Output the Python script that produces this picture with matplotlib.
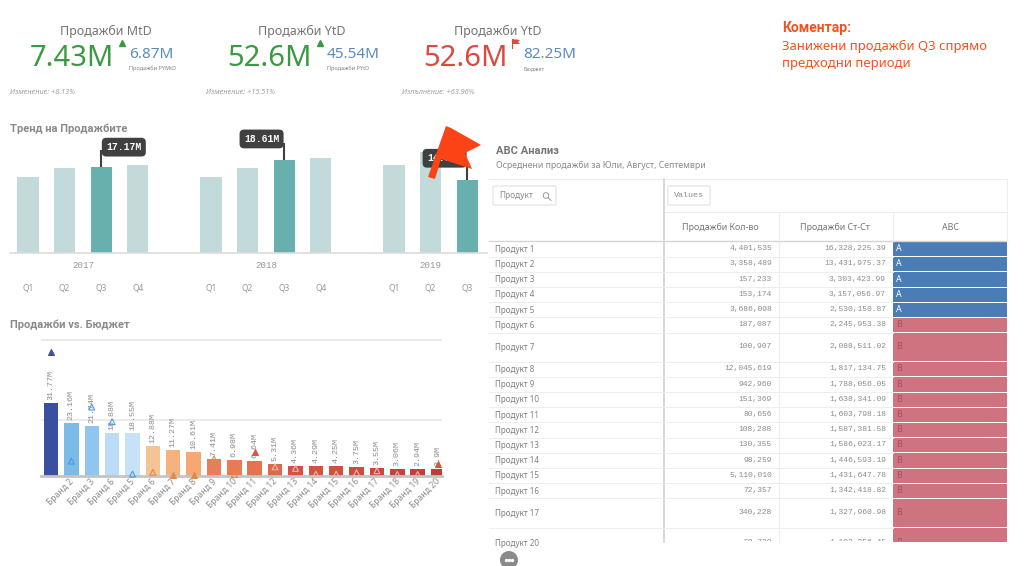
import matplotlib
matplotlib.use("Agg")
import matplotlib.pyplot as plt
from matplotlib.patches import Polygon, Rectangle, FancyBboxPatch, Circle
from matplotlib.transforms import blended_transform_factory, ScaledTranslation

W, H = 1024, 566
SANS = "Noto Sans"
BOLD = "Roboto"
MONO = "Liberation Mono"
plt.rcParams["font.family"] = [SANS, "DejaVu Sans"]

# ---------- data ----------
kpi_titles = ["Продажби MtD", "Продажби YtD", "Продажби YtD"]
kpi_values = ["7.43M", "52.6M", "52.6M"]
kpi_refs = ["6.87M", "45.54M", "82.25M"]
kpi_ref_names = ["Продажби PYMtD", "Продажби PYtD", "Бюджет"]
kpi_notes = ["Изменение: +8.13%", "Изменение: +15.51%", "Изпълнение: +63.96%"]

comment_lines = ["Занижени продажби Q3 спрямо", "предходни периоди"]

trend_years = ["2017", "2018", "2019"]
trend_quarters = [["Q1", "Q2", "Q3", "Q4"], ["Q1", "Q2", "Q3", "Q4"], ["Q1", "Q2", "Q3"]]
trend_values = [[15.2, 17.0, 17.17, 17.7], [15.3, 17.1, 18.61, 19.0], [17.7, 20.2, 14.55]]

brand_tick_labels = ["Бранд 2", "Бранд 3", "Бранд 6", "Бранд 5", "Бранд 6", "Бранд 7", "Бранд 8",
                     "Бранд 9", "Бранд 10", "Бранд 11", "Бранд 12", "Бранд 13", "Бранд 14",
                     "Бранд 15", "Бранд 16", "Бранд 17", "Бранд 18", "Бранд 19", "Бранд 20"]
brand_sales = [31.77, 23.16, 21.74, 18.88, 18.55, 12.88, 11.27, 10.61, 7.41, 6.98,
               6.64, 5.31, 4.36, 4.29, 4.25, 3.75, 3.55, 3.06, 2.94, 2.9]
brand_budget = [54.4, 6.4, 30.1, 23.7, 0.7, 1.5, 0.5, 0.5, 7.3, 0.5,
                10.5, 3.9, 3.2, 0.7, 0.7, 1.3, 2.2, 0.6, 0.6, 5.0]
brand_budget_filled = [1, 0, 0, 0, 0, 0, 1, 1, 0, 0, 1, 0, 0, 0, 0, 0, 0, 0, 0, 1]
brand_colors = ["#3a4f9f", "#7bbbe8", "#8fc5ee", "#bcdcf5", "#c5e2f8", "#f3c595", "#f6b27a",
                "#f5a871", "#e97d57", "#e97a52", "#e5744e", "#e0674a", "#d2543f", "#d2533f",
                "#d0503e", "#cd4b3d", "#cb463c", "#c8413b", "#c63e3b", "#c33a3a"]

products = ["Продукт 1", "Продукт 2", "Продукт 3", "Продукт 4", "Продукт 5", "Продукт 6", "Продукт 7",
            "Продукт 8", "Продукт 9", "Продукт 10", "Продукт 11", "Продукт 12", "Продукт 13",
            "Продукт 14", "Продукт 15", "Продукт 16", "Продукт 17", "Продукт 20"]
qty = [4401535, 3358489, 157233, 153174, 3686098, 187087, 100907, 12045619, 942960,
       151369, 80656, 108288, 130355, 98259, 5110010, 72357, 340228, 59729]
revenue = [16328225.39, 13431975.37, 3303423.99, 3157056.97, 2530150.87, 2245953.38,
           2088511.02, 1817134.75, 1788056.05, 1638341.09, 1603798.18, 1587381.58,
           1586023.17, 1446593.19, 1431647.78, 1342418.82, 1327960.98, 1102256.45]
abc = ["A"] * 5 + ["B"] * 13
table_headers = ["Продажби Кол-во", "Продажби Ст-Ст", "ABC"]

# ---------- helpers ----------
fig = plt.figure(figsize=(W / 100, H / 100), dpi=100, facecolor="white")


def axes_px(l, t, r, b, **kw):
    return fig.add_axes([l / W, 1 - b / H, (r - l) / W, (b - t) / H], **kw)


ov = axes_px(0, 0, W, H)
ov.set_xlim(0, W)
ov.set_ylim(H, 0)
ov.axis("off")

GREY = "#8a8a8a"
# ---------- KPI ----------
kpi_big_colors = ["#3a9a41", "#3a9a41", "#dc4a3d"]
kpi_title_x = [106, 302, 498]
kpi_big_x = [72, 269, 465]
kpi_ref_x = [129, 327, 523]
kpi_note_x = [10, 206, 402]
for i in range(3):
    ov.text(kpi_title_x[i], 31, kpi_titles[i], ha="center", va="center", fontsize=9, color="#757575")
    ov.text(kpi_big_x[i], 58, kpi_values[i], ha="center", va="center", fontsize=21, color=kpi_big_colors[i])
    ov.text(kpi_ref_x[i], 55, kpi_refs[i], ha="left", va="center", fontsize=11, color="#5b8cc0")
    ov.text(kpi_ref_x[i], 68.5, kpi_ref_names[i], ha="left", va="center", fontsize=4, color="#808080")
    ov.text(kpi_note_x[i], 92, kpi_notes[i], ha="left", va="center", fontsize=5.3, style="italic", color="#a0a0a0")
ov.plot([122, 320], [43, 43], ls="none", marker="^", ms=4.5, color="#3a9a41")
ov.plot([512, 512], [39, 48], color="#dc4a3d", lw=0.8)
ov.add_patch(Polygon([(512, 39), (520, 40), (518, 42), (520, 44), (512, 44)], color="#dc4a3d", lw=0))

# ---------- comment ----------
ov.text(782, 28, "Коментар:", fontsize=10, fontweight="bold", family=BOLD, color="#f4511e", va="center")
for y, line in zip([46, 64], comment_lines):
    ov.text(782, y, line, fontsize=9.45, color="#f4511e", va="center")

# ---------- trend chart ----------
ov.text(10, 129, "Тренд на Продажбите", fontsize=8, fontweight="bold", family=BOLD, color=GREY, va="center")
tr = axes_px(10, 115, 487, 253)
tr.patch.set_alpha(0)
tr.set_xlim((10 - 28) / 36.6, (487 - 28) / 36.6)
tr.set_ylim(0, 27.6)
for s in ["top", "left", "right"]:
    tr.spines[s].set_visible(False)
tr.spines["bottom"].set_color("#dcdcdc")
tr.spines["bottom"].set_linewidth(1.2)
tr.set_yticks([])
ticks, tlabels = [], []
idx = 0
year_tf = blended_transform_factory(tr.transData, ov.transData)
for g, (yr, qs, vals) in enumerate(zip(trend_years, trend_quarters, trend_values)):
    xs = [idx + k for k in range(len(qs))]
    cols = ["#67b0ad" if q == "Q3" else "#c2dbda" for q in qs]
    tr.bar(xs, vals, width=0.574, color=cols, zorder=2)
    ticks += xs
    tlabels += qs
    ov.text(sum(xs) / len(xs), 266, yr, transform=year_tf, ha="center", va="center",
            fontsize=6.6, family=MONO, color="#999999")
    q3 = qs.index("Q3")
    ha = "left" if g == 0 else "right"
    off = [(5, 15), (-5, 16), (-5, 17)][g]
    tr.plot([xs[q3], xs[q3]], [vals[q3], vals[q3] + 3.4], color="#404040", lw=1.5, zorder=4,
            solid_capstyle="butt")
    tr.annotate(f"{vals[q3]:.2f}M", xy=(xs[q3], vals[q3]), xytext=off, textcoords="offset pixels",
                ha=ha, va="bottom", fontsize=7, fontweight="bold", color="white", family=MONO, zorder=5,
                bbox=dict(boxstyle="round,pad=0.45", fc="#404040", ec="none"))
    idx += len(qs) + 1
tr.set_xticks(ticks)
tr.set_xticklabels(tlabels, fontsize=6, color="#999999")
tr.tick_params(axis="x", length=0, pad=22)

# ---------- brand chart ----------
ov.text(10, 325, "Продажби vs. Бюджет", fontsize=8, fontweight="bold", family=BOLD, color=GREY, va="center")
br = axes_px(41, 335, 442, 475.7)
br.patch.set_alpha(0)
br.set_xlim((41 - 51) / 20.37, (442 - 51) / 20.37)
br.set_ylim(0, 61.7)
for s in ["top", "left", "right"]:
    br.spines[s].set_visible(False)
br.spines["bottom"].set_color("#c4c4c4")
br.spines["bottom"].set_linewidth(2)
br.set_yticks([24.4, 59.5])
br.set_yticklabels([])
br.tick_params(axis="y", length=0)
br.grid(axis="y", color="#e6e6e6", lw=1.1, zorder=0)
br.set_axisbelow(True)
xs = list(range(len(brand_sales)))
br.bar(xs, brand_sales, width=0.71, color=brand_colors, zorder=2)
for x, v in zip(xs, brand_sales):
    br.annotate(f"{v:g}M", xy=(x, v), xytext=(0, 3), textcoords="offset pixels", rotation=90,
                ha="center", va="bottom", fontsize=6, color="#8c8c8c", family=MONO, zorder=3)
for x, b, f, c in zip(xs, brand_budget, brand_budget_filled, brand_colors):
    edge = "#4a9be0" if c in brand_colors[1:5] else ("#3a4f9f" if x == 0 else "#e08a4a" if x < 11 else "#e2b8b0")
    if x == 10 or x == 19:
        edge = "#d9553f"
    br.scatter([x], [b], marker="^", s=18, zorder=4,
               facecolor=edge if f else "none", edgecolor=edge, linewidth=0.8, clip_on=False)
br.set_xticks(xs[1:])
br.set_xticklabels(brand_tick_labels, rotation=45, ha="right", rotation_mode="anchor",
                   fontsize=6.2, color="#8c8c8c")
br.tick_params(axis="x", length=0, pad=1)
shift = ScaledTranslation(-2 / 100, 0, fig.dpi_scale_trans)
for lab in br.get_xticklabels():
    lab.set_transform(lab.get_transform() + shift)

# ---------- table ----------
ov.text(496, 151, "ABC Анализ", fontsize=8, fontweight="bold", family=BOLD, color="#777777", va="center")
ov.text(496, 165, "Осреднени продажби за Юли, Август, Септември", fontsize=6.3, color=GREY, va="center")
col_x = [489, 664, 779, 893, 1007]
LINE = "#eeeeee"
ov.plot([col_x[0], col_x[4]], [179, 179], color=LINE, lw=0.8)
ov.plot([col_x[1], col_x[4]], [212, 212], color=LINE, lw=0.8)
ov.plot([col_x[0], col_x[4]], [241, 241], color="#d4d4d4", lw=1)
ov.plot([col_x[4], col_x[4]], [179, 241], color=LINE, lw=0.8)
ov.plot([col_x[2], col_x[2]], [212, 542], color=LINE, lw=0.8)
ov.plot([col_x[3], col_x[3]], [212, 241], color=LINE, lw=0.8)
ov.plot([col_x[1], col_x[1]], [179, 542], color="#d4d4d4", lw=1.3)
for x0, x1, lab in [(493, 556, "Продукт"), (668, 710, "Values")]:
    ov.add_patch(FancyBboxPatch((x0, 186), x1 - x0, 19, boxstyle="round,pad=0,rounding_size=1",
                                fc="white", ec="#e2e2e2", lw=0.8))
    ov.text(x0 + 6, 195.5, lab, fontsize=6, family=MONO if lab == "Values" else SANS, color=GREY, va="center")
ov.add_patch(Circle((546, 195.5), 2.8, fc="none", ec=GREY, lw=0.6))
ov.plot([548.1, 551], [197.6, 200.5], color=GREY, lw=0.6)
for cx, lab in zip([720, 835, 950], table_headers):
    ov.text(cx, 227, lab, ha="center", va="center", fontsize=6.4, color="#777777")
row_h = [15.2] * 6 + [29] + [15.2] * 9 + [29.5, 30]
clip = Rectangle((480, 170), 540, 371, transform=ov.transData)
y = 241.5
for i, h in enumerate(row_h):
    bot = min(y + h, 542)
    col = "#4a7db5" if abc[i] == "A" else "#cf7380"
    ov.add_patch(Rectangle((col_x[3], y + 0.5), col_x[4] - col_x[3], bot - y - 1, fc=col, ec="none"))
    if bot < 542:
        ov.plot([col_x[0], col_x[3]], [bot, bot], color=LINE, lw=0.7)
    ty = y + h / 2 - 0.3
    ov.text(495, ty + 0.5, products[i], fontsize=5.8, color="#808080", va="center")
    for txt, rx in [(f"{qty[i]:,}", 772), (f"{revenue[i]:,.2f}", 886)]:
        t = ov.text(rx, ty, txt, ha="right", va="center", fontsize=5.8, family=MONO, color="#8c8c8c")
        t.set_clip_on(True)
        t.set_clip_path(clip)
    t = ov.text(896, ty, abc[i], va="center", fontsize=6.4,
                color="white" if abc[i] == "A" else "#a2525e")
    t.set_clip_on(True)
    t.set_clip_path(clip)
    y += h

# ---------- more button ----------
ov.add_patch(Circle((509, 560), 9, fc="#8a8a8a", ec="none"))
ov.plot([506, 509, 512], [560, 560, 560], ls="none", marker="o", ms=1.4, color="white")

# ---------- big flag ----------
ov.add_patch(Polygon([(428, 177), (446, 126), (451, 128), (481, 145), (465, 153), (472, 169), (441, 159), (435, 179)],
                     color="#fb4315", lw=0, zorder=10))
ov.set_zorder(5)
fig.savefig("out.png", dpi=100, facecolor="white")
